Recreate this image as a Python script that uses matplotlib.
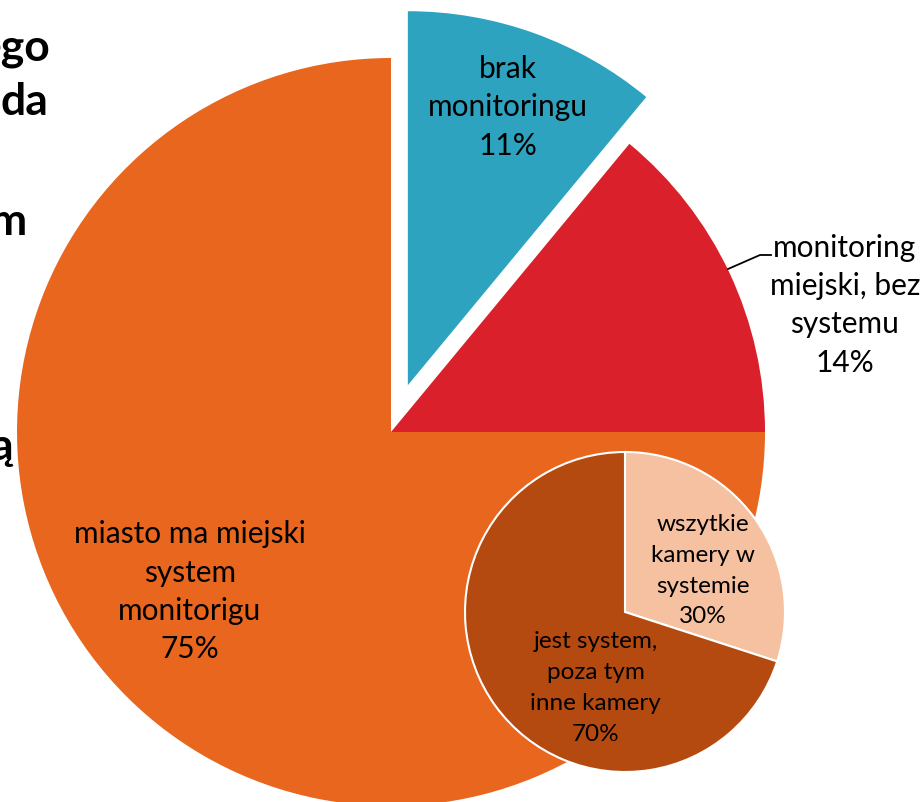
import numpy as np
import matplotlib
matplotlib.use("Agg")
import matplotlib.pyplot as plt

# main pie: share of cities by monitoring status
main_labels = ["miasto ma miejski\nsystem\nmonitorigu", "monitoring\nmiejski, bez\nsystemu", "brak\nmonitoringu"]
main_values = [75, 14, 11]
main_colors = ["#E9661E", "#D9202B", "#2EA3BF"]
main_explode = [0, 0, 0.133]

# sub pie: breakdown of "miasto ma miejski system monitorigu"
sub_labels = ["wszytkie\nkamery w\nsystemie", "jest system,\npoza tym\ninne kamery"]
sub_values = [30, 70]
sub_colors = ["#F5C1A1", "#B54A10"]

# clipped title fragments visible on the left edge
title_bits = ["ego", "da", "m", "ą"]

plt.rcParams["font.family"] = ["Lato", "DejaVu Sans"]

W, H = 924, 802
fig = plt.figure(figsize=(W / 100, H / 100), dpi=100)
ax = fig.add_axes([0, 0, 1, 1])

c_main = (391, H - 432)
r_main = 374
# matplotlib's explode is in data units, not a fraction of the radius
ax.pie(main_values, colors=main_colors, startangle=90, counterclock=True,
       explode=[e * r_main for e in main_explode], center=c_main,
       radius=r_main, frame=True, wedgeprops=dict(linewidth=0))

c_sub = (625, H - 612)
r_sub = 160
ax.pie(sub_values, colors=sub_colors, startangle=90, counterclock=False,
       center=c_sub, radius=r_sub, frame=True,
       wedgeprops=dict(linewidth=1.5, edgecolor="white"))
ax.set_xlim(0, W)
ax.set_ylim(0, H)
ax.set_aspect("equal")
ax.axis("off")


def polar(center, r, frac, ang):
    a = np.deg2rad(ang)
    return center[0] + r * frac * np.cos(a), center[1] + r * frac * np.sin(a)


# label anchors (radius fraction, angle) relative to each pie
main_pos = [(0.687, 218.5), (1.26, 15.6), (0.79, 70.2)]
ex = polar((0, 0), r_main, main_explode[2], 70.2)
for i, (lab, v) in enumerate(zip(main_labels, main_values)):
    cx, cy = c_main
    if main_explode[i]:
        cx, cy = cx + ex[0], cy + ex[1]
    x, y = polar((cx, cy), r_main, *main_pos[i])
    ax.text(x, y, f"{lab}\n{v}%", ha="center", va="center", fontsize=21.5,
            linespacing=1.45, color="black")

# leader line for the red slice
ax.plot([728, 760, 771], [H - 269, H - 255, H - 255], color="black", lw=1.3)

sub_pos = [(0.55, 28), (0.51, 249)]
for lab, v, (f, a) in zip(sub_labels, sub_values, sub_pos):
    x, y = polar(c_sub, r_sub, f, a)
    ax.text(x, y, f"{lab}\n{v}%", ha="center", va="center", fontsize=17.5,
            linespacing=1.58, color="black")

for txt, xr, yc in zip(title_bits, [50, 48, 26, 13], [48, 102, 222, 447]):
    ax.text(xr, H - yc, txt, ha="right", va="center", fontsize=32,
            fontweight="bold", color="black")

fig.savefig("out.png", dpi=100)
